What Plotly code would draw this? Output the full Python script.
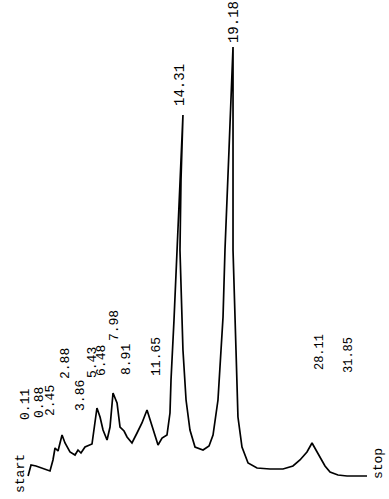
import plotly.graph_objects as go

# Chromatogram trace: retention time (min) and detector signal (arbitrary units)
time_min = [-0.19, 0.10, 0.58, 1.36, 1.94, 2.23, 2.43, 2.72, 3.11, 3.40, 3.88, 4.37, 4.66, 4.95,
            5.34, 6.02, 6.50, 6.80, 7.09, 7.48, 7.77, 8.06, 8.45, 8.74, 9.13, 9.42, 9.90, 10.39,
            10.87, 11.36, 11.65, 12.14, 12.43, 12.82, 13.30, 13.59, 13.69, 13.98, 14.27, 14.56,
            14.85, 14.66, 14.56, 14.85, 15.15, 15.53, 16.02, 16.80, 17.38, 17.77, 18.25, 18.74,
            18.93, 19.32, 19.71, 19.71, 19.71, 20.00, 20.19, 20.58, 21.17, 22.04, 23.30, 24.56,
            25.53, 26.21, 26.89, 27.38, 27.77, 28.16, 28.64, 29.13, 29.90, 30.78, 32.72]
signal = [0.0, 2.75, 2.5, 1.75, 1.25, 4.0, 7.0, 6.25, 10.25, 8.25, 6.0, 5.25, 6.5, 5.75,
          7.25, 8.0, 17.0, 14.75, 11.5, 9.0, 12.25, 20.75, 18.25, 12.25, 11.25, 9.75, 8.25, 10.75,
          13.25, 16.5, 14.0, 9.75, 7.75, 9.5, 10.25, 15.75, 24.0, 39.0, 56.5, 74.0,
          90.25, 74.0, 56.5, 31.5, 19.0, 11.5, 7.25, 6.5, 7.5, 10.25, 19.0, 39.75,
          56.5, 81.5, 107.25, 81.5, 56.5, 31.5, 14.75, 7.25, 3.25, 2.0, 1.75, 1.75,
          2.5, 4.0, 6.0, 8.25, 6.5, 4.5, 2.5, 1.0, 0.25, 0.0, 0.0]

# Retention-time labels printed by the integrator
rt_labels = ["0.11", "0.88", "2.45", "2.88", "3.86", "5.43", "6.48", "7.98",
             "8.91", "11.65", "14.31", "19.18", "28.11", "31.85"]

# placement of the printed labels (data coordinates)
label_x = [-0.49, 0.87, 1.94, 3.40, 4.85, 6.02, 6.89, 8.16, 9.32, 12.23, 14.56, 19.81, 28.16, 30.97]
label_y = [18.0, 18.5, 19.0, 28.0, 20.25, 28.25, 29.0, 37.5, 29.0, 30.0, 97.75, 113.5, 31.0, 30.25]
label_size = [13, 13, 13, 13, 13, 13, 13, 13, 13, 13, 14, 14, 12, 12]

fig = go.Figure()
fig.add_trace(go.Scatter(x=time_min, y=signal, mode="lines",
                         line=dict(color="black", width=1.7), hoverinfo="skip"))

FONT = "Liberation Mono"
for txt, x, y, s in zip(rt_labels, label_x, label_y, label_size):
    fig.add_annotation(x=x, y=y, text=txt, textangle=-90, showarrow=False,
                       xanchor="center", yanchor="middle",
                       font=dict(family=FONT, size=s, color="black"))

fig.add_annotation(x=-0.97, y=0.5, text="start", textangle=-90, showarrow=False,
                   xanchor="center", yanchor="middle",
                   font=dict(family=FONT, size=13, color="black"))
fig.add_annotation(x=33.79, y=3.0, text="stop", textangle=-90, showarrow=False,
                   xanchor="center", yanchor="middle",
                   font=dict(family=FONT, size=13, color="black"))

fig.update_layout(
    width=389, height=499,
    margin=dict(l=0, r=0, t=0, b=0),
    paper_bgcolor="white", plot_bgcolor="white",
    showlegend=False,
    xaxis=dict(range=[-2.913, 34.854], visible=False, showgrid=False, zeroline=False),
    yaxis=dict(range=[-5.75, 119.0], visible=False, showgrid=False, zeroline=False),
)

fig.write_html("out.html", config={"displayModeBar": False},
               post_script="document.body.style.margin='0px';")
